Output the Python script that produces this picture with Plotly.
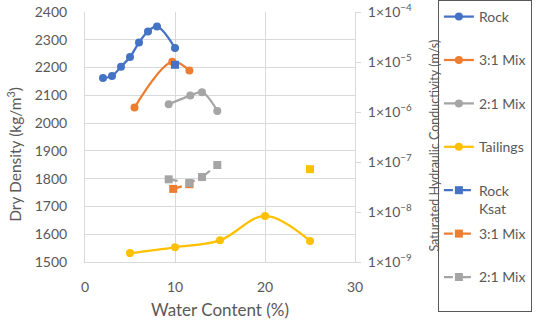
import plotly.graph_objects as go

# Dry density curves (water content %, dry density kg/m3)
rock_w = [2, 3, 4, 5, 6, 7, 8, 10]
rock_d = [2162, 2170, 2203, 2238, 2290, 2330, 2348, 2270]
mix31_w = [5.5, 9.7, 11.6]
mix31_d = [2056, 2221, 2189]
mix21_w = [9.3, 11.7, 13.0, 14.7]
mix21_d = [2068, 2099, 2111, 2044]
tail_w = [5, 10, 15, 20, 25]
tail_d = [1532, 1553, 1578, 1666, 1576]

# Saturated hydraulic conductivity (m/s)
rock_k_w = [10.0]
rock_k = [8.8e-6]
mix31_k_w = [9.8, 11.6]
mix31_k = [2.9e-8, 3.6e-8]
mix21_k_w = [9.3, 11.6, 13.0, 14.7]
mix21_k = [4.5e-8, 3.8e-8, 5.0e-8, 8.7e-8]
tail_k_w = [25.0]
tail_k = [7.2e-8]

k_tickvals = [1e-9, 1e-8, 1e-7, 1e-6, 1e-5, 1e-4]
k_ticktext = ["1×10<sup>−9</sup>", "1×10<sup>−8</sup>", "1×10<sup>−7</sup>",
              "1×10<sup>−6</sup>", "1×10<sup>−5</sup>", "1×10<sup>−4</sup>"]

BLUE, ORANGE, GRAY, YELLOW = "#4472C4", "#ED7D31", "#A5A5A5", "#FFC000"
TXT = "#595959"
GRID = "#D9D9D9"
FONT = "Lato"
NB = "<br>\u00a0"

fig = go.Figure()

def curve(x, y, name, color, grp):
    fig.add_trace(go.Scatter(x=x, y=y, name=name, mode="lines+markers",
                             line=dict(color=color, width=2.25, shape="spline"),
                             marker=dict(symbol="circle", size=8, color=color),
                             legendgroup=grp, yaxis="y"))

def ksat(x, y, name, color, grp, show=True):
    fig.add_trace(go.Scatter(x=x, y=y, name=name, mode="lines+markers",
                             line=dict(color=color, width=2.25, dash="dash"),
                             marker=dict(symbol="square", size=8, color=color),
                             legendgroup=grp, showlegend=show, yaxis="y2"))

curve(rock_w, rock_d, "Rock" + NB, BLUE, "a")
curve(mix31_w, mix31_d, "3:1 Mix" + NB, ORANGE, "b")
curve(mix21_w, mix21_d, "2:1 Mix" + NB, GRAY, "c")
curve(tail_w, tail_d, "Tailings" + NB, YELLOW, "d")
ksat(rock_k_w, rock_k, "Rock<br>Ksat", BLUE, "e")
ksat(mix31_k_w, mix31_k, "3:1 Mix" + NB, ORANGE, "f")
ksat(mix21_k_w, mix21_k, "2:1 Mix" + NB, GRAY, "g")
ksat(tail_k_w, tail_k, "Tailings Ksat", YELLOW, "h", show=False)

fig.update_layout(
    width=550, height=321,
    margin=dict(l=85, r=195, t=12, b=59, autoexpand=False),
    paper_bgcolor="white", plot_bgcolor="white",
    font=dict(family=FONT, size=14, color=TXT),
    xaxis=dict(range=[0, 30], dtick=10, showgrid=True, gridcolor=GRID,
               showline=True, linecolor=GRID, zeroline=False,
               ticks="", ticklabelstandoff=12,
               title=dict(text="Water Content (%)", standoff=10)),
    yaxis=dict(range=[1500, 2400], dtick=100, showgrid=True, gridcolor=GRID,
               showline=True, linecolor=GRID, zeroline=False, ticks="",
               ticklabelstandoff=14),
    yaxis2=dict(type="log", range=[-9, -4], overlaying="y", side="right",
                tickvals=k_tickvals, ticktext=k_ticktext, showgrid=False,
                showline=True, linecolor=GRID, ticks="outside", ticklen=5,
                tickcolor=GRID, zeroline=False, ticklabelstandoff=4),
    annotations=[
        dict(text="Dry Density (kg/m<sup>3</sup>)", textangle=-90,
             xref="paper", yref="paper", x=-0.262, y=0.43,
             xanchor="center", yanchor="middle", showarrow=False,
             font=dict(family=FONT, size=15.5, color=TXT)),
        dict(text="Saturated Hydraulic Conductivity (m/s)", textangle=-90,
             xref="paper", yref="paper", x=1.291, y=0.464,
             xanchor="center", yanchor="middle", showarrow=False,
             font=dict(family=FONT, size=12.5, color=TXT)),
    ],
    legend=dict(x=1.307, xanchor="left", y=1.048, yanchor="top",
                bordercolor="#595959", borderwidth=1, bgcolor="rgba(0,0,0,0)",
                traceorder="grouped", tracegroupgap=4, valign="top",
                maxheight=320, entrywidth=90,
                font=dict(family=FONT, size=14, color=TXT)),
)

fig.write_html("out.html", config={"displayModeBar": False},
               post_script="document.body.style.margin='0px';")
